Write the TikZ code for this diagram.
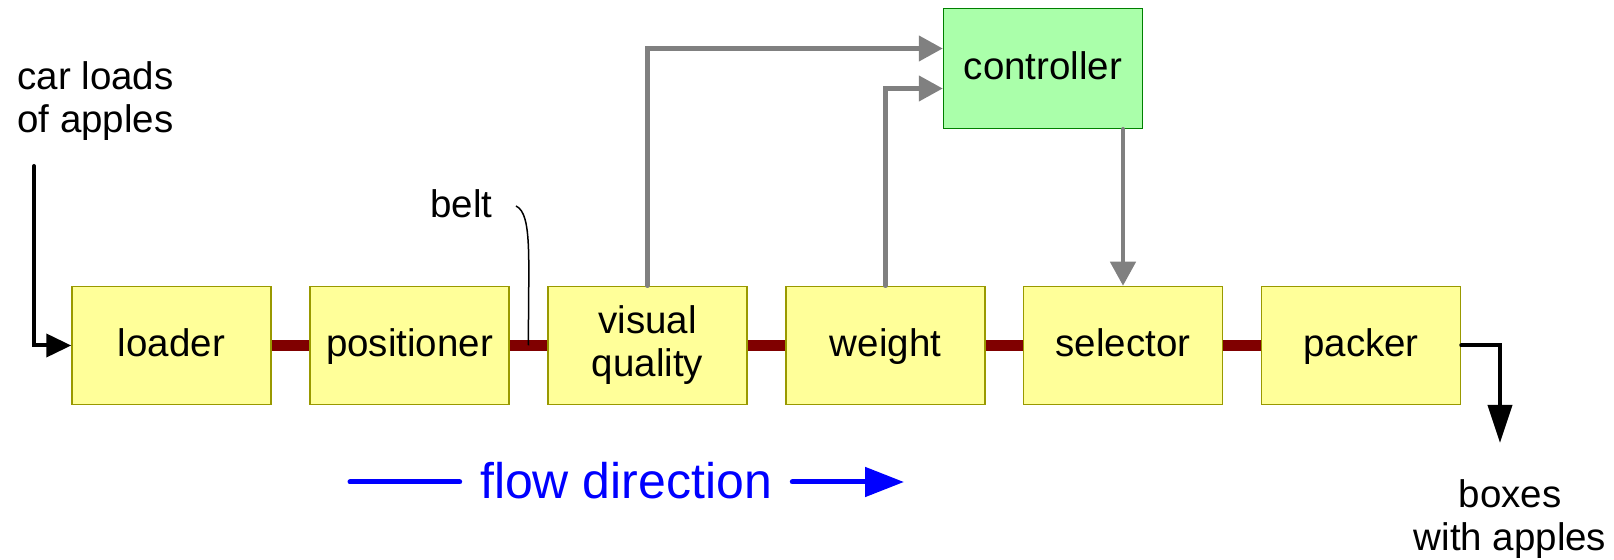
\documentclass[tikz,border=0pt]{standalone}
\usepackage{fontspec}
\setmainfont{Liberation Sans}
\usetikzlibrary{arrows.meta,calc}
\definecolor{boxfill}{HTML}{FFFF99}
\definecolor{boxdraw}{HTML}{999900}
\definecolor{ctrlfill}{HTML}{AAFFAA}
\definecolor{ctrldraw}{HTML}{008000}
\definecolor{beltcol}{HTML}{800000}
\definecolor{grayline}{HTML}{808080}
\begin{document}
\begin{tikzpicture}[x=0.5pt,y=-0.5pt,
  every node/.style={font=\fontsize{19.25}{21.5}\selectfont},
  stage/.style={draw=boxdraw,fill=boxfill,line width=0.75pt,minimum width=99.5pt,minimum height=59pt,inner sep=0pt,align=center},
  oneline/.style={text height=14.5pt,text depth=3.5pt},
  ctrlbox/.style={draw=ctrldraw,fill=ctrlfill,line width=0.75pt,minimum width=99.5pt,minimum height=60pt,inner sep=0pt,oneline},
  beltline/.style={beltcol,line width=5.5pt},
  grayarrow/.style={grayline,line width=2.25pt,line cap=round,-{Triangle[length=12pt,width=12.5pt]}},
  blackin/.style={black,line width=2pt,line cap=round,-{Triangle[length=12.5pt,width=11.5pt]}},
  blackout/.style={black,line width=2pt,line cap=round,-{Triangle[length=19pt,width=12pt]}},
  flowline/.style={blue,line width=2.5pt,line cap=round},
  label/.style={inner sep=0pt,anchor=base}
]
\useasboundingbox (0,0) rectangle (1614,560);

\node[stage,oneline] (loader) at (171.5,345.5) {loader};
\node[stage,oneline] (pos) at (409.5,345.5) {positioner};
\node[stage] (vq) at (647.5,345.5) {visual\\quality};
\node[stage,oneline] (weight) at (885.5,345.5) {weight};
\node[stage,oneline] (sel) at (1123,345.5) {selector};
\node[stage,oneline] (pack) at (1361,345.5) {packer};
\node[ctrlbox] (ctrl) at (1043,68.5) {controller};

\draw[beltline] (loader.east) -- (pos.west);
\draw[beltline] (pos.east) -- (vq.west);
\draw[beltline] (vq.east) -- (weight.west);
\draw[beltline] (weight.east) -- (sel.west);
\draw[beltline] (sel.east) -- (pack.west);

\draw[grayarrow] (vq.north) |- ([yshift=10pt]ctrl.west);
\draw[grayarrow] (weight.north) |- ([yshift=-10pt]ctrl.west);
\draw[grayarrow] (sel.north |- ctrl.south) -- (sel.north);

\coordinate (inlet) at (34,166);
\draw[blackin] (inlet) |- (loader.west);
\coordinate (outlet) at (1500,443);
\draw[blackout] (pack.east) -| (outlet);

\node[label,anchor=base west] (car1) at (17,90) {car loads};
\node[label,anchor=base west] (car2) at (17,133) {of apples};
\node[label] (box1) at (1510,508) {boxes};
\node[label] (box2) at (1510,551) {with apples};

\node[label,anchor=base west] (beltlbl) at (430,218) {belt};
\coordinate (beltstart) at (516,206);
\draw[black,line width=0.75pt] (beltstart) .. controls (533,214) and (528,262) .. ($(pos.east)!0.5!(vq.west)$);

\node[inner sep=10pt,anchor=base,text=blue,font=\fontsize{25}{30}\selectfont] (flow) at (626,499) {flow direction};
\coordinate (flowstart) at (350,482);
\coordinate (flowend) at (904,482);
\draw[flowline] (flowstart) -- (flowstart -| flow.west);
\draw[flowline,-{Triangle[length=19.5pt,width=14.5pt]}] (flowend -| flow.east) -- (flowend);
\end{tikzpicture}
\end{document}
